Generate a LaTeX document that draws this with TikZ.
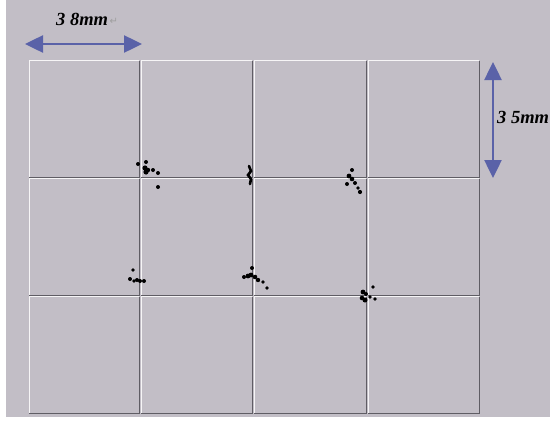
\documentclass[tikz,border=0pt]{standalone}
\usepackage{fontspec}
\setmainfont{Liberation Serif}
\newfontfamily\symfont{DejaVu Sans}
\usetikzlibrary{arrows.meta}
\definecolor{panel}{RGB}{194,190,198}
\definecolor{dimblue}{RGB}{90,98,168}
\definecolor{tiledark}{RGB}{95,93,100}

\begin{document}
\begin{tikzpicture}[
  x=1pt,y=-1pt,
  lightedge/.style={white!85!panel,line width=1.3pt},
  darkedge/.style={tiledark,line width=1.3pt},
  dimarrow/.style={dimblue,line width=2.5pt,{Triangle[width=17pt,length=18pt]}-{Triangle[width=17pt,length=18pt]}},
  dimlabel/.style={font=\fontsize{18.5}{18.5}\selectfont\bfseries\itshape,inner sep=0pt},
  speck/.style={fill=black}
]
\useasboundingbox (0,0) rectangle (550,421);
\fill[white] (0,0) rectangle (550,421);
\fill[panel] (6,0) rectangle (550,417);

% tiles
\foreach \xa/\xb in {28/140,140/253,253/367,367/480}
  \foreach \ya/\yb in {60/178,178/296,296/414} {
    \draw[lightedge] (\xa+1.2,\yb-1) -- (\xa+1.2,\ya+0.7) -- (\xb-1,\ya+0.7);
    \draw[darkedge] (\xa+1.2,\yb-0.7) -- (\xb-0.7,\yb-0.7) -- (\xb-0.7,\ya+0.7);
  }

% dimension arrows
\coordinate (hl) at (25,44);
\coordinate (hr) at (142,44);
\coordinate (vt) at (493,62);
\coordinate (vb) at (493,178);
\draw[dimarrow] (hl) -- (hr);
\draw[dimarrow] (vt) -- (vb);
\node[dimlabel,anchor=west] (wlab) at (56,19) {3 8mm};
\node[anchor=south west,inner sep=0pt,text=gray!75,font=\symfont\fontsize{10}{10}\selectfont] (ret) at ([xshift=1pt]wlab.base east) {↵};
\node[dimlabel,anchor=west] (hlab) at (497,117) {3 5mm};

% specks
\foreach \px/\py/\r in {138/164/2,146/162/2,145/168/2.6,146/172/2.6,148/170/2.2,153/170/2,158/173/2,158/187/2}
  \fill[speck] (\px,\py) circle (\r);
\draw[black,line width=2.6pt,line cap=round] (249,166) -- (251,171) -- (248,175) -- (251,179) -- (250,184);
\foreach \px/\py/\r in {352/170/2,349/176/2.4,352/179/2.3,347/184/2,355/183/2,358/188/1.9,360/192/2.1}
  \fill[speck] (\px,\py) circle (\r);
\foreach \px/\py/\r in {133/270/1.9,130/279/2,134/281/1.9,137/280/2,140/281/2,144/281/2}
  \fill[speck] (\px,\py) circle (\r);
\foreach \px/\py/\r in {252/268/2,244/277/2,248/276/2.4,251/275/2.4,255/277/2.3,258/280/2.2,263/282/1.9,267/288/1.8}
  \fill[speck] (\px,\py) circle (\r);
\foreach \px/\py/\r in {373/287/1.9,363/292/2.4,366/294/2,362/298/2.3,365/300/2.5,370/297/1.9,375/299/1.8}
  \fill[speck] (\px,\py) circle (\r);
\end{tikzpicture}
\end{document}
